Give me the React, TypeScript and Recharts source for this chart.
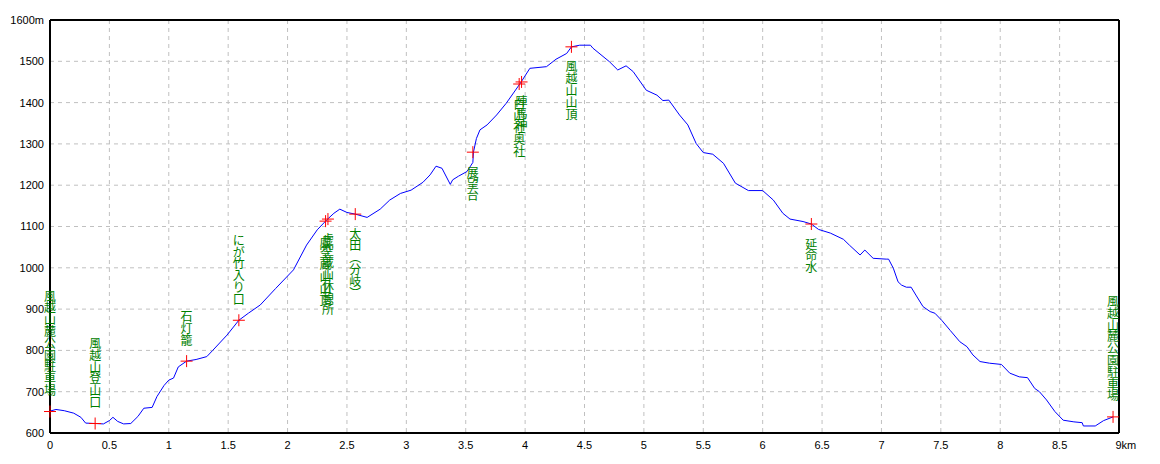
import React from 'react';
import {
  CartesianGrid,
  ComposedChart,
  Line,
  ReferenceLine,
  Scatter,
  XAxis,
  YAxis,
} from 'recharts';

// elevation profile, distance (km) / altitude (m)
const distances = [
  0, 0.05, 0.12, 0.2, 0.26, 0.3, 0.38, 0.45, 0.5, 0.53, 0.57, 0.62, 0.68, 0.74, 0.79, 0.86, 0.9, 0.96,
  1.0, 1.04, 1.08, 1.15, 1.23, 1.32, 1.37, 1.49, 1.59, 1.67, 1.77, 1.9, 2.05, 2.16, 2.25, 2.33, 2.39,
  2.44, 2.5, 2.57, 2.67, 2.78, 2.86, 2.95, 3.04, 3.14, 3.2, 3.25, 3.3, 3.37, 3.39, 3.44, 3.51, 3.56,
  3.565, 3.59, 3.62, 3.68, 3.76, 3.84, 3.96, 4.04, 4.18, 4.26, 4.35, 4.39, 4.46, 4.55, 4.57, 4.71,
  4.78, 4.85, 4.91, 5.02, 5.11, 5.16, 5.21, 5.3, 5.37, 5.44, 5.5, 5.58, 5.67, 5.77, 5.88, 6.0, 6.09,
  6.17, 6.23, 6.34, 6.41, 6.47, 6.57, 6.68, 6.73, 6.82, 6.86, 6.93, 7.04, 7.06, 7.1, 7.14, 7.17, 7.21,
  7.25, 7.29, 7.35, 7.41, 7.45, 7.51, 7.58, 7.66, 7.72, 7.77, 7.83, 7.91, 8.01, 8.08, 8.16, 8.23, 8.29,
  8.33, 8.39, 8.46, 8.53, 8.62, 8.69, 8.7, 8.8, 8.87, 8.95,
];
const altitudes = [
  653, 657, 654, 648, 638, 624, 623, 622, 630, 638, 628, 622, 623, 640, 660, 662, 688, 715,
  728, 733, 760, 774, 778, 785, 800, 837, 873, 890, 910, 950, 995, 1055, 1092, 1116, 1132,
  1142, 1134, 1130, 1122, 1142, 1164, 1180, 1188, 1207, 1225, 1246, 1241, 1202, 1213, 1222, 1233, 1255,
  1280, 1313, 1334, 1346, 1370, 1398, 1447, 1483, 1487, 1505, 1519, 1535, 1539, 1539, 1532, 1499,
  1479, 1489, 1475, 1430, 1418, 1405, 1406, 1370, 1346, 1301, 1279, 1275, 1253, 1205, 1187, 1187, 1164,
  1132, 1118, 1112, 1106, 1093, 1084, 1069, 1055, 1031, 1043, 1023, 1021, 1021, 999, 966, 958, 953,
  953, 934, 906, 894, 890, 872, 848, 821, 809, 789, 773, 769, 766, 745, 736, 734, 708,
  700, 680, 652, 631, 627, 625, 617, 617, 630, 639,
];

// waypoints along the route
const pointNames = [
  '風越山麓公園駐車場',
  '風越山登山口',
  '石灯籠',
  'にが竹入り口',
  '虚空蔵山山頂',
  '虚空蔵山休憩所',
  '太田︵分岐︶',
  '展望台',
  '白山社奥社',
  '陣馬神',
  '風越山山頂',
  '延命水',
  '風越山麓公園駐車場 ',
];
const pointKm = [0, 0.38, 1.15, 1.59, 2.32, 2.34, 2.57, 3.56, 3.95, 3.97, 4.39, 6.41, 8.95];
const pointAlt = [652, 623, 774, 873, 1113, 1118, 1130, 1280, 1445, 1450, 1535, 1106, 639];

const xTicks = [0, 0.5, 1, 1.5, 2, 2.5, 3, 3.5, 4, 4.5, 5, 5.5, 6, 6.5, 7, 7.5, 8, 8.5, 9];
const yTicks = [600, 700, 800, 900, 1000, 1100, 1200, 1300, 1400, 1500, 1600];

const labelsAbove = new Set(['風越山麓公園駐車場', '風越山登山口', '石灯籠', 'にが竹入り口', '風越山麓公園駐車場 ']);

const profile = distances.map((km, i) => ({ km, alt: altitudes[i] }));
const waypoints = pointNames.map((name, i) => ({ km: pointKm[i], alt: pointAlt[i], name }));

const tickFont = "'Liberation Sans Narrow', 'Liberation Sans', Arial, sans-serif";
const labelFont = "'Noto Sans CJK JP', 'Noto Sans CJK SC', sans-serif";
const STEP = 11.8;

const XTick = ({ x, y, payload }: any) => {
  const v = payload.value;
  if (v === 9) {
    return (
      <text x={x - 3.5} y={y} dy="0.71em" fontSize={11} fontFamily={tickFont} fill="#000" textAnchor="start">
        9km
      </text>
    );
  }
  return (
    <text x={x} y={y} dy="0.71em" fontSize={11} fontFamily={tickFont} fill="#000" textAnchor="middle">
      {v}
    </text>
  );
};

const YTick = ({ x, y, payload }: any) => (
  <text x={x} y={y} dy="0.36em" fontSize={11} fontFamily={tickFont} fill="#000" textAnchor="end">
    {payload.value === 1600 ? '1600m' : payload.value}
  </text>
);

const Marker = (props: any) => {
  const { cx, cy, payload } = props;
  if (cx == null || cy == null) return null;
  const chars = Array.from(String(payload.name).trim());
  const above = labelsAbove.has(payload.name);
  const first = above ? cy - 22 - (chars.length - 1) * STEP : cy + 19;
  return (
    <g>
      <line x1={cx - 6} x2={cx + 6} y1={cy} y2={cy} stroke="#ff0000" strokeWidth={1} />
      <line x1={cx} x2={cx} y1={cy - 6} y2={cy + 6} stroke="#ff0000" strokeWidth={1} />
      {chars.map((c, i) => (
        <text
          key={i}
          x={cx}
          y={first + i * STEP}
          dominantBaseline="central"
          textAnchor="middle"
          fontSize={12}
          fontFamily={labelFont}
          fill="#008000"
        >
          {c}
        </text>
      ))}
    </g>
  );
};

export default function App() {
  return (
    <div style={{ position: 'absolute', left: 0, top: 0, width: 1160, height: 464, background: '#fff' }}>
      <ComposedChart width={1160} height={464} data={profile} margin={{ top: 20, right: 41, left: 0, bottom: 0 }}>
        <CartesianGrid stroke="#c0c0c0" strokeDasharray="4 4" />
        <XAxis
          dataKey="km"
          type="number"
          domain={[0, 9]}
          ticks={xTicks}
          interval={0}
          height={31}
          tickLine={false}
          tickSize={0}
          tickMargin={8}
          axisLine={{ stroke: '#000', strokeWidth: 2 }}
          tick={<XTick />}
        />
        <YAxis
          dataKey="alt"
          type="number"
          domain={[600, 1600]}
          ticks={yTicks}
          interval={0}
          width={50}
          tickLine={false}
          tickSize={0}
          tickMargin={6}
          axisLine={{ stroke: '#000', strokeWidth: 2 }}
          tick={<YTick />}
        />
        <ReferenceLine y={1600} stroke="#000" strokeWidth={2} />
        <ReferenceLine x={9} stroke="#000" strokeWidth={2} />
        <Line
          type="linear"
          dataKey="alt"
          stroke="#0000ff"
          strokeWidth={1}
          dot={false}
          activeDot={false}
          isAnimationActive={false}
        />
        <Scatter data={waypoints} dataKey="alt" shape={<Marker />} isAnimationActive={false} />
      </ComposedChart>
    </div>
  );
}
